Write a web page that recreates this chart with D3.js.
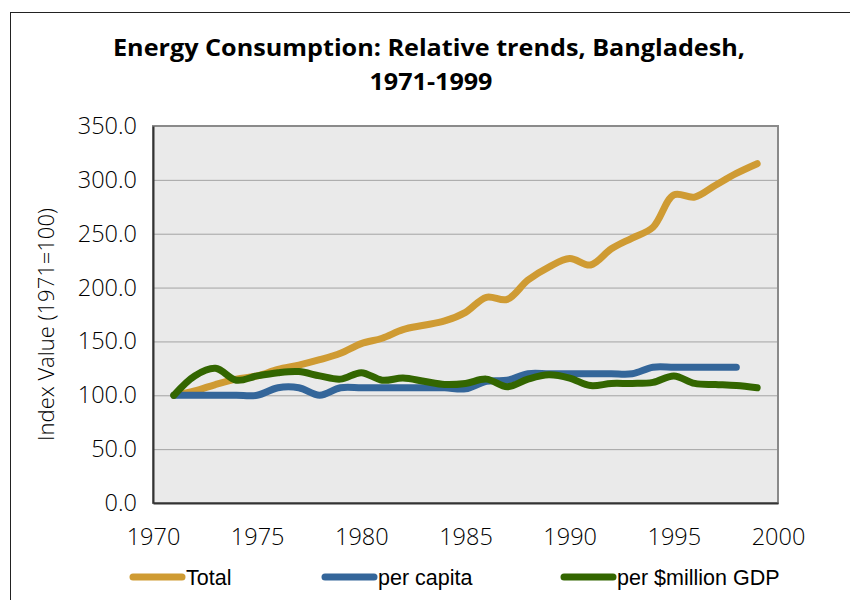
<!DOCTYPE html>
<html>
<head>
<meta charset="utf-8">
<script src="https://cdn.jsdelivr.net/npm/d3@7"></script>
<style>
    body { margin: 0; background: #fff; }
    svg { display: block; }
</style>
</head>
<body>
<svg id="chart"></svg>
<script>
(function() {

    const years = [1971,1972,1973,1974,1975,1976,1977,1978,1979,1980,1981,1982,1983,1984,1985,1986,1987,1988,1989,1990,1991,1992,1993,1994,1995,1996,1997,1998,1999];
    const total = [100,104,110,115,118,124,128,133,139,148,153,161,165,169,177,191,189,207,219,227,221,236,246,256,286,284,295,306,315];
    const perCapita = [100,100,100,100,100,107,107,100,107,107,107,107,107,107,106,113,114,120,120,120,120,120,120,126,126,126,126,126];
    const perGdp = [100,118,125,114,118,121,122,118,115,121,114,116,113,110,111,115,108,115,119,116,109,111,111,112,118,111,110,109,107];

    const seriesNames = ['Total', 'per capita', 'per $million GDP'];
    const seriesColors = ['#CF9B33', '#34669A', '#336600'];
    const yTicks = [0, 50, 100, 150, 200, 250, 300, 350];
    const xTicks = [1970, 1975, 1980, 1985, 1990, 1995, 2000];

    const w = 850;
    const h = 600;
    const plot = { left: 153, right: 778, top: 126, bottom: 503 };

    const series = [total, perCapita, perGdp].map((vals, i) => ({
        name: seriesNames[i],
        color: seriesColors[i],
        points: vals.map((v, j) => ({ year: years[j], value: v }))
    }));

    // Scales
    const scaleX = d3.scaleLinear().domain([1970, 2000]).range([plot.left, plot.right]);
    const scaleY = d3.scaleLinear().domain([0, 350]).range([plot.bottom, plot.top]);

    const svg = d3.select('#chart')
        .attr('width', w)
        .attr('height', h);

    // Outer frame (runs off the right and bottom edges)
    svg.append('rect')
        .attr('x', 10.5)
        .attr('y', 12.5)
        .attr('width', 860)
        .attr('height', 620)
        .attr('fill', '#fff')
        .attr('stroke', '#222')
        .attr('stroke-width', 1);

    // Title
    const title = svg.append('text')
        .attr('text-anchor', 'middle')
        .style('font-family', '"Open Sans", sans-serif')
        .style('font-weight', 'bold')
        .style('font-size', '24px')
        .attr('fill', '#000');
    title.append('tspan').attr('x', 429).attr('y', 56)
        .attr('textLength', 632).attr('lengthAdjust', 'spacingAndGlyphs')
        .text('Energy Consumption: Relative trends, Bangladesh,');
    title.append('tspan').attr('x', 431).attr('y', 90)
        .attr('textLength', 123).attr('lengthAdjust', 'spacingAndGlyphs')
        .text('1971-1999');

    // Plot background
    svg.append('rect')
        .attr('x', plot.left)
        .attr('y', plot.top)
        .attr('width', plot.right - plot.left)
        .attr('height', plot.bottom - plot.top)
        .attr('fill', '#EAEAEA');

    // Gridlines
    svg.append('g')
        .selectAll('line')
        .data(yTicks.filter(t => t > 0 && t < 350))
        .enter().append('line')
        .attr('x1', plot.left)
        .attr('x2', plot.right)
        .attr('y1', d => scaleY(d) + 0.5)
        .attr('y2', d => scaleY(d) + 0.5)
        .attr('stroke', '#A3A3A3')
        .attr('stroke-width', 1);

    // Plot border
    svg.append('rect')
        .attr('x', plot.left)
        .attr('y', plot.top)
        .attr('width', plot.right - plot.left)
        .attr('height', plot.bottom - plot.top)
        .attr('fill', 'none')
        .attr('stroke', '#8A8A8A')
        .attr('stroke-width', 2);

    // Axes
    const yAxis = d3.axisLeft(scaleY).tickValues(yTicks).tickSize(0).tickPadding(16).tickFormat(d3.format('.1f'));
    const xAxis = d3.axisBottom(scaleX).tickValues(xTicks).tickSize(0).tickPadding(25).tickFormat(d3.format('d'));

    const gy = svg.append('g')
        .attr('transform', `translate(${plot.left}, 0)`)
        .call(yAxis);
    const gx = svg.append('g')
        .attr('transform', `translate(0, ${plot.bottom})`)
        .call(xAxis);

    [gx, gy].forEach(g => {
        g.select('.domain').attr('stroke', '#333').attr('stroke-width', 2);
        g.selectAll('text')
            .style('font-family', '"Open Sans", sans-serif')
            .style('font-weight', '300')
            .style('font-size', '23.5px')
            .attr('fill', '#000');
    });

    // Y axis title
    svg.append('text')
        .attr('transform', `translate(54, ${(plot.top + plot.bottom) / 2 + 10}) rotate(-90)`)
        .attr('text-anchor', 'middle')
        .style('font-family', '"Open Sans", sans-serif')
        .style('font-weight', '300')
        .style('font-size', '22px')
        .attr('fill', '#000')
        .text('Index Value (1971=100)');

    // Lines
    const line = d3.line()
        .x(d => scaleX(d.year))
        .y(d => scaleY(d.value))
        .curve(d3.curveCatmullRom.alpha(0.5));

    svg.append('g')
        .selectAll('path')
        .data(series)
        .enter().append('path')
        .attr('d', d => line(d.points))
        .attr('fill', 'none')
        .attr('stroke', d => d.color)
        .attr('stroke-width', 7)
        .attr('stroke-linecap', 'round')
        .attr('stroke-linejoin', 'round');

    // Legend
    const legendX = [133, 325, 564];
    const legendY = 577;

    const legend = svg.append('g')
        .selectAll('g')
        .data(series)
        .enter().append('g')
        .attr('transform', (d, i) => `translate(${legendX[i]}, ${legendY})`);

    legend.append('line')
        .attr('x1', 0)
        .attr('x2', 49)
        .attr('y1', 0)
        .attr('y2', 0)
        .attr('stroke', d => d.color)
        .attr('stroke-width', 7)
        .attr('stroke-linecap', 'round');

    legend.append('text')
        .attr('x', 53)
        .attr('y', 8)
        .style('font-family', '"Liberation Sans", Arial, sans-serif')
        .style('font-size', '21.5px')
        .attr('fill', '#000')
        .text(d => d.name);

})();
</script>
</body>
</html>
